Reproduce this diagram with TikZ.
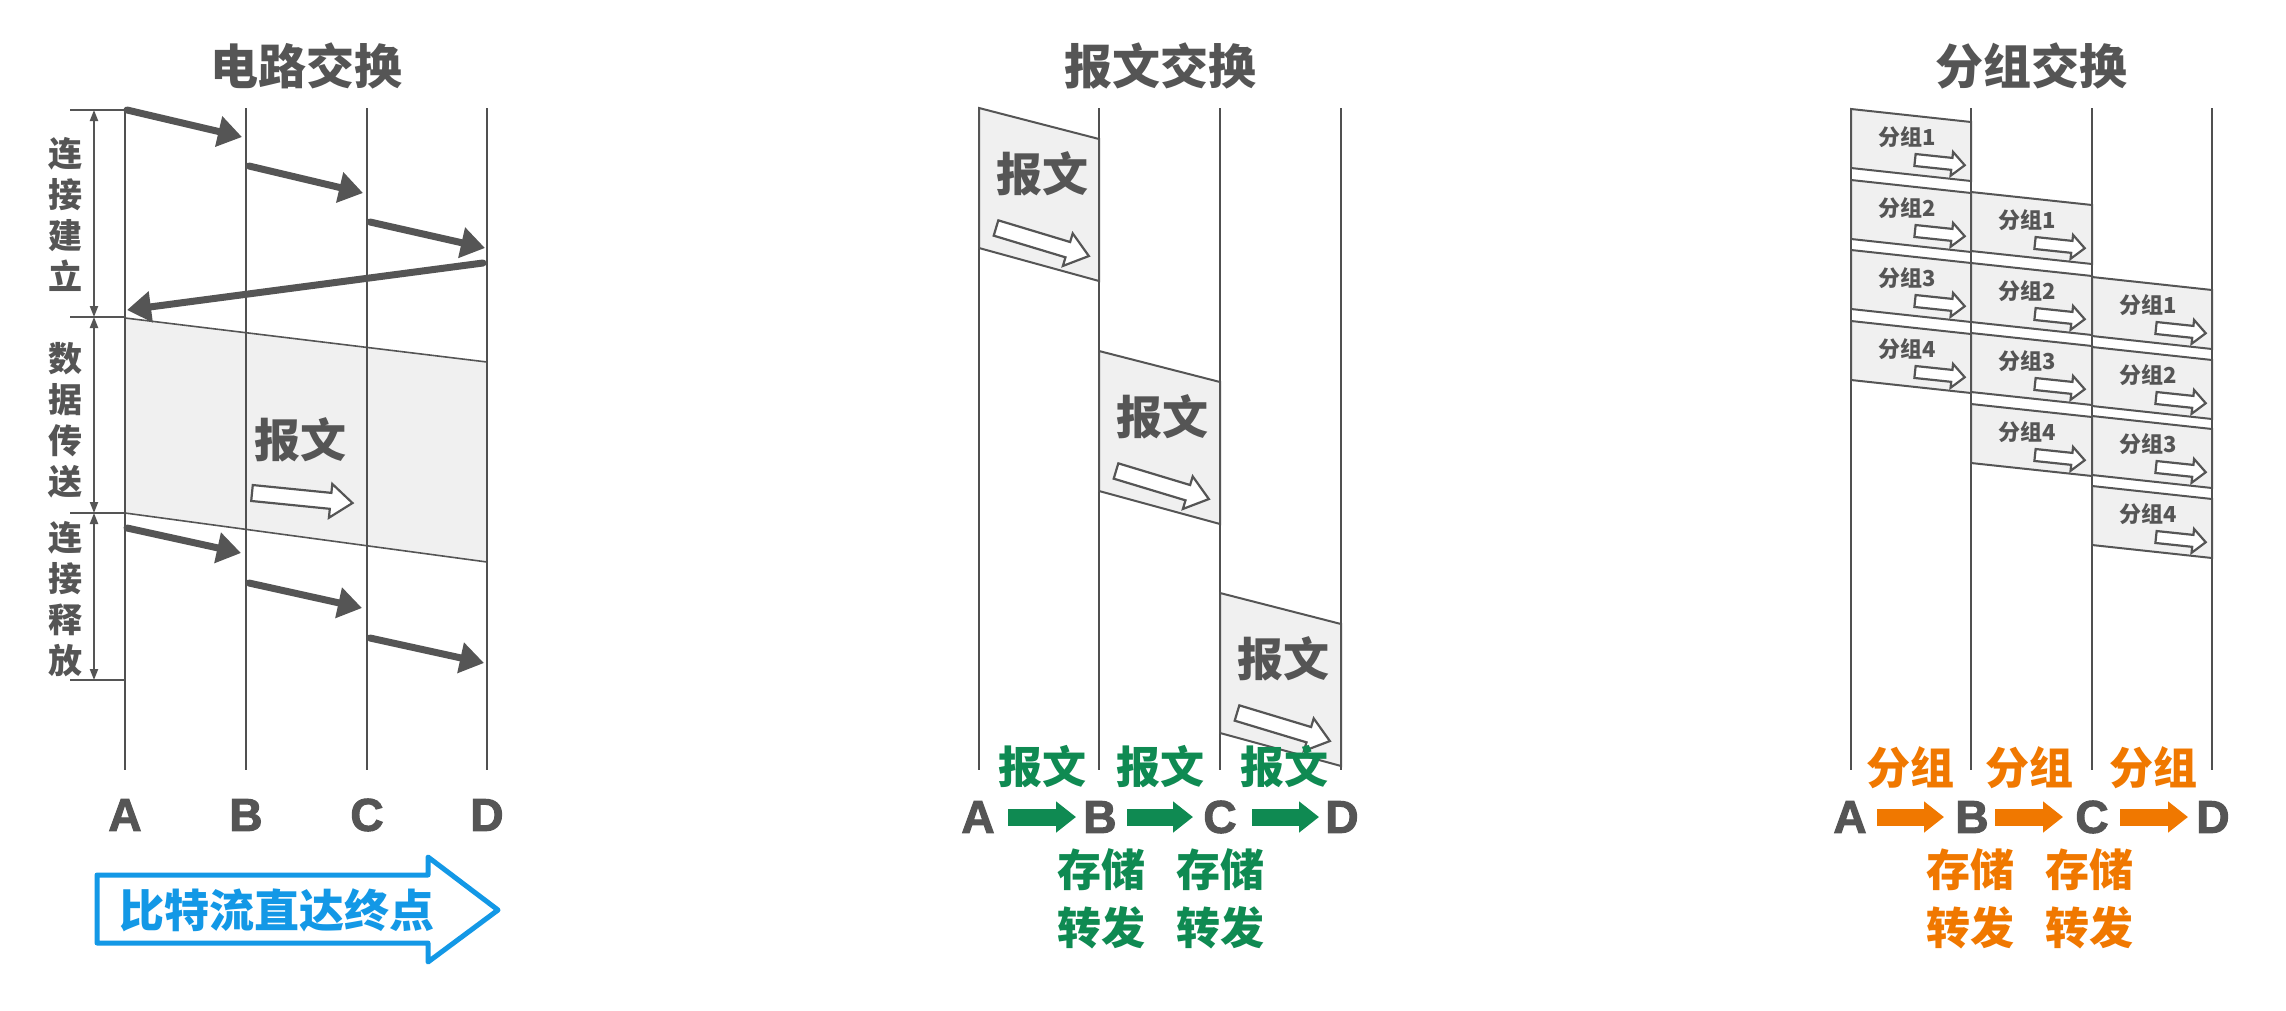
\documentclass[tikz,border=0pt]{standalone}
\usepackage{fontspec}
\usetikzlibrary{arrows.meta,calc}
\newfontfamily\cjk{Noto Sans CJK SC}
\newfontfamily\lat{Liberation Sans Bold}[FakeBold=2.2]
\definecolor{dg}{HTML}{555555}
\definecolor{lc}{HTML}{505050}
\definecolor{boxfill}{HTML}{F0F0F0}
\definecolor{grn}{HTML}{0F8A52}
\definecolor{org}{HTML}{F07800}
\definecolor{blu}{HTML}{1398E6}
\tikzset{
  vline/.style={draw=lc, line width=2pt},
  thickarr/.style={draw=dg, line width=7pt, line cap=round, -{Triangle[length=24pt,width=30pt]}},
  tickline/.style={draw=dg, line width=2pt},
  brk/.style={draw=dg, line width=2pt, {Triangle[length=11pt,width=8pt]}-{Triangle[length=11pt,width=8pt]}},
  databox/.style={draw=dg, line width=1.6pt, fill=boxfill},
  msgbox/.style={draw=dg, line width=2pt, fill=boxfill},
  hollow/.style={draw=dg, line width=2.2pt, fill=white, line join=miter},
  title/.style={font=\cjk\bfseries\fontsize{48pt}{52pt}\selectfont, text=dg, inner sep=0pt},
  vlabel/.style={font=\cjk\bfseries\fontsize{34pt}{41pt}\selectfont, text=dg, align=center, inner sep=0pt},
  bigtext/.style={font=\cjk\bfseries\fontsize{46pt}{50pt}\selectfont, text=dg, inner sep=0pt},
  pkttext/.style={font=\cjk\bfseries\fontsize{22pt}{24pt}\selectfont, text=dg, inner sep=0pt},
  letter/.style={font=\lat\fontsize{46pt}{50pt}\selectfont, text=dg, inner sep=0pt},
  gtext/.style={font=\cjk\bfseries\fontsize{44pt}{48pt}\selectfont, text=grn, inner sep=0pt},
  otext/.style={font=\cjk\bfseries\fontsize{44pt}{48pt}\selectfont, text=org, inner sep=0pt},
  garr/.style={draw=grn, line width=17pt, -{Triangle[length=20pt,width=30pt]}},
  oarr/.style={draw=org, line width=17pt, -{Triangle[length=20pt,width=30pt]}},
  bluearrow/.style={draw=blu, line width=5pt, line join=round, fill=white},
  btext/.style={font=\cjk\bfseries\fontsize{45pt}{48pt}\selectfont, text=blu, inner sep=0pt},
  pics/harrow/.style n args={4}{code={
    \draw[hollow] (0,-#2) -- (#1-#4,-#2) -- (#1-#4,-#3) -- (#1,0) -- (#1-#4,#3) -- (#1-#4,#2) -- (0,#2) -- cycle;
  }},
}
\begin{document}
\begin{tikzpicture}[x=1pt,y=-1pt]
\useasboundingbox[fill=white] (0,0) rectangle (2286,1010);

% ================= Panel 1: circuit switching =================
\node[title] (t1) at (306,66) {电路交换};
\draw[databox] (125,318) -- (487,362) -- (487,562) -- (125,513) -- cycle;
\foreach \n/\x in {A/125,B/246,C/367,D/487}{
  \coordinate (p1\n t) at (\x,108);
  \coordinate (p1\n b) at (\x,770);
  \draw[vline] (p1\n t) -- (p1\n b);
  \node[letter] (p1\n) at (\x,815) {\n};
}
% bracket
\foreach \i/\y in {1/110,2/317,3/513,4/680}{
  \coordinate (bl\i) at (70,\y);
  \coordinate (br\i) at (125,\y);
  \coordinate (bm\i) at (94,\y);
  \draw[tickline] (bl\i) -- (br\i);
}
\draw[brk] (bm1) -- (bm2);
\draw[brk] (bm2) -- (bm3);
\draw[brk] (bm3) -- (bm4);
\node[vlabel] (v1) at (65,214) {连\\接\\建\\立};
\node[vlabel] (v2) at (65,420) {数\\据\\传\\送};
\node[vlabel] (v3) at (65,599) {连\\接\\释\\放};
% connection setup arrows
\coordinate (s1a) at (127,110); \coordinate (s1b) at (242,137);
\coordinate (s2a) at (249,166); \coordinate (s2b) at (363,193);
\coordinate (s3a) at (370,222); \coordinate (s3b) at (485,248);
\coordinate (s4a) at (483,263); \coordinate (s4b) at (127,310);
\draw[thickarr] (s1a) -- (s1b);
\draw[thickarr] (s2a) -- (s2b);
\draw[thickarr] (s3a) -- (s3b);
\draw[thickarr] (s4a) -- (s4b);
% release arrows
\coordinate (r1a) at (127,528); \coordinate (r1b) at (241,553);
\coordinate (r2a) at (249,583); \coordinate (r2b) at (362,608);
\coordinate (r3a) at (370,638); \coordinate (r3b) at (484,663);
\draw[thickarr] (r1a) -- (r1b);
\draw[thickarr] (r2a) -- (r2b);
\draw[thickarr] (r3a) -- (r3b);
\node[bigtext] (m0) at (300,440) {报文};
\path (252,493) pic[rotate=-5.7]{harrow={101}{8}{17}{22}};
% blue arrow
\draw[bluearrow] (97,875) -- (428,875) -- (428,857) -- (498,910) -- (428,962) -- (428,943) -- (97,943) -- cycle;
\node[btext] (bt) at (277,910) {比特流直达终点};

% ================= Panel 2: message switching =================
\node[title] (t2) at (1160,66) {报文交换};
\foreach \n/\x in {A/979,B/1099,C/1220,D/1341}{
  \coordinate (p2\n t) at (\x,108);
  \coordinate (p2\n b) at (\x,770);
  \draw[vline] (p2\n t) -- (p2\n b);
}
\foreach \k/\x/\xx/\T in {1/979/1099/108, 2/1099/1220/351, 3/1220/1341/593}{
  \draw[msgbox] (\x,\T) -- (\xx,\T+31) -- (\xx,\T+173) -- (\x,\T+140) -- cycle;
  \node[bigtext] (msg\k) at (\x+63,\T+66) {报文};
  \path (\x+17,\T+120) pic[rotate=-16.8]{harrow={97}{8}{17}{22}};
}
\foreach \n/\x in {A/978,B/1100,C/1220,D/1342}{
  \node[letter] (p2\n) at (\x,817) {\n};
}
\node[gtext] (g1) at (1042,767) {报文};
\node[gtext] (g2) at (1160,767) {报文};
\node[gtext] (g3) at (1284,767) {报文};
\coordinate (ga1) at (1008,817); \coordinate (gb1) at (1076,817);
\coordinate (ga2) at (1127,817); \coordinate (gb2) at (1193,817);
\coordinate (ga3) at (1252,817); \coordinate (gb3) at (1319,817);
\draw[garr] (ga1) -- (gb1);
\draw[garr] (ga2) -- (gb2);
\draw[garr] (ga3) -- (gb3);
\node[gtext] (gs1) at (1101,870) {存储};
\node[gtext] (gs2) at (1220,870) {存储};
\node[gtext] (gf1) at (1101,928) {转发};
\node[gtext] (gf2) at (1220,928) {转发};

% ================= Panel 3: packet switching =================
\node[title] (t3) at (2031,66) {分组交换};
\foreach \n/\x in {A/1851,B/1971,C/2092,D/2212}{
  \coordinate (p3\n t) at (\x,108);
  \coordinate (p3\n b) at (\x,770);
  \draw[vline] (p3\n t) -- (p3\n b);
}
\foreach \c/\x/\xx/\a/\b/\cc/\d in {A/1851/1971/109/180/250/321, B/1971/2092/192/263/333/404, C/2092/2212/277/347/416/486}{
  \foreach \k/\T in {1/\a,2/\b,3/\cc,4/\d}{
    \draw[msgbox] (\x,\T) -- (\xx,\T+13) -- (\xx,\T+72) -- (\x,\T+59) -- cycle;
    \node[pkttext] (pk\c\k) at (\x+56,\T+28) {分组\k};
    \path (\x+64,\T+51) pic[rotate=-6]{harrow={50}{6}{12}{13}};
  }
}
\foreach \n/\x in {A/1850,B/1972,C/2092,D/2213}{
  \node[letter] (p3\n) at (\x,817) {\n};
}
\node[otext] (o1) at (1910,768) {分组};
\node[otext] (o2) at (2029,768) {分组};
\node[otext] (o3) at (2153,768) {分组};
\coordinate (oa1) at (1877,817); \coordinate (ob1) at (1944,817);
\coordinate (oa2) at (1995,817); \coordinate (ob2) at (2063,817);
\coordinate (oa3) at (2120,817); \coordinate (ob3) at (2188,817);
\draw[oarr] (oa1) -- (ob1);
\draw[oarr] (oa2) -- (ob2);
\draw[oarr] (oa3) -- (ob3);
\node[otext] (os1) at (1970,870) {存储};
\node[otext] (os2) at (2089,870) {存储};
\node[otext] (of1) at (1970,928) {转发};
\node[otext] (of2) at (2089,928) {转发};
\end{tikzpicture}
\end{document}
